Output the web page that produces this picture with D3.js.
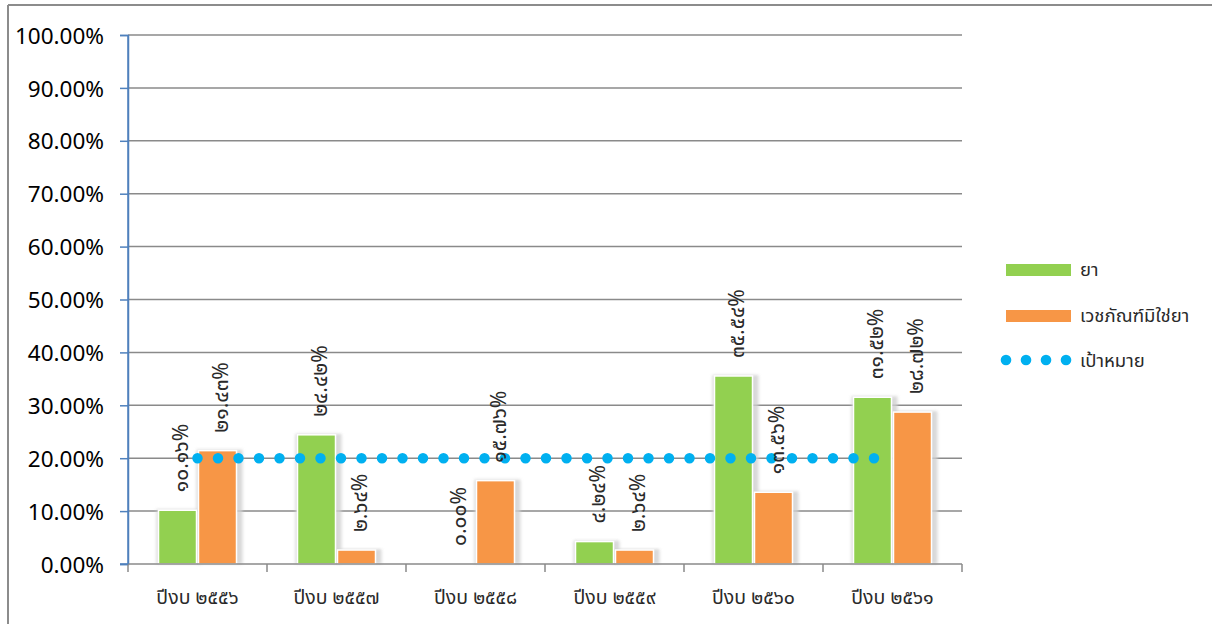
<!DOCTYPE html>
<html>
<head>
<meta charset="utf-8">
<script src="https://cdn.jsdelivr.net/npm/d3@7"></script>
<style>
  html, body { margin: 0; padding: 0; background: #fff; }
  svg { display: block; }
  text { font-family: "Noto Sans Thai", "Noto Sans", "DejaVu Sans", sans-serif; }
</style>
</head>
<body>
<svg id="chart" width="1212" height="624"></svg>
<script>
// Fiscal years (Thai Buddhist era)
const categories = ["ปีงบ ๒๕๕๖", "ปีงบ ๒๕๕๗", "ปีงบ ๒๕๕๘", "ปีงบ ๒๕๕๙", "ปีงบ ๒๕๖๐", "ปีงบ ๒๕๖๑"];
// Percentages per year
const drugValues = [10.16, 24.42, 0.00, 4.24, 35.54, 31.52];
const nonDrugValues = [21.43, 2.64, 15.76, 2.64, 13.56, 28.72];
const targetValues = [20, 20, 20, 20, 20, 20];
const yTicks = [0, 10, 20, 30, 40, 50, 60, 70, 80, 90, 100];
const seriesNames = ["ยา", "เวชภัณฑ์มิใช่ยา", "เป้าหมาย"];

const thaiDigits = "๐๑๒๓๔๕๖๗๘๙";
const toThai = s => s.replace(/[0-9]/g, d => thaiDigits[+d]);

const svg = d3.select("#chart");
const W = 1212, H = 624;
const plot = { left: 128, right: 962, top: 35, bottom: 564 };

const GREEN = "#92d050", ORANGE = "#f79646", BLUE = "#00b0f0";

// frame
svg.append("line").attr("x1", 8).attr("x2", W + 5).attr("y1", 5).attr("y2", 5)
  .attr("stroke", "#8c8c8c").attr("stroke-width", 2);
svg.append("line").attr("x1", 8).attr("x2", 8).attr("y1", 5).attr("y2", H + 5)
  .attr("stroke", "#8c8c8c").attr("stroke-width", 2);

const x = d3.scaleBand().domain(categories).range([plot.left, plot.right]).paddingInner(0).paddingOuter(0);
const y = d3.scaleLinear().domain([0, 100]).range([plot.bottom, plot.top]);

// gridlines
svg.append("g").selectAll("line").data(yTicks.filter(t => t > 0)).join("line")
  .attr("x1", plot.left).attr("x2", plot.right)
  .attr("y1", d => y(d)).attr("y2", d => y(d))
  .attr("stroke", "#8a8a8a").attr("stroke-width", 1.5);

// y axis
const yAxis = svg.append("g").attr("transform", `translate(${plot.left},0)`)
  .call(d3.axisLeft(y).tickValues(yTicks).tickSize(8).tickPadding(16)
    .tickFormat(d => d.toFixed(2) + "%"));
yAxis.select(".domain").attr("stroke", "#4f81bd").attr("stroke-width", 1.5);
yAxis.selectAll(".tick line").attr("stroke", "#4f81bd").attr("stroke-width", 1.5);
yAxis.selectAll(".tick text").attr("fill", "#000").style("font-size", "22.5px")
  .style("font-family", "'Noto Sans', sans-serif").attr("dy", "0.36em");

// bars
const groupW = 80, barW = groupW / 2;
const defs = svg.append("defs");
defs.append("filter").attr("id", "shadow").attr("x", "-30%").attr("y", "-10%").attr("width", "160%").attr("height", "120%")
  .append("feGaussianBlur").attr("stdDeviation", 1.5);

const bars = [];
categories.forEach((c, i) => {
  const cx = x(c) + x.bandwidth() / 2;
  bars.push({ c, x0: cx - groupW / 2, v: drugValues[i], color: GREEN });
  bars.push({ c, x0: cx, v: nonDrugValues[i], color: ORANGE });
});

const barG = svg.append("g");
bars.filter(b => b.v > 0).forEach(b => {
  barG.append("rect").attr("x", b.x0 - 1).attr("y", y(b.v) - 1)
    .attr("width", barW + 6).attr("height", y(0) - y(b.v) + 1)
    .attr("fill", "#cfcfcf").attr("filter", "url(#shadow)").attr("opacity", 0.8);
});
bars.filter(b => b.v > 0).forEach(b => {
  barG.append("rect").attr("x", b.x0 + 1).attr("y", y(b.v))
    .attr("width", barW - 2).attr("height", y(0) - y(b.v))
    .attr("fill", b.color).attr("stroke", "#fff").attr("stroke-width", 1.5);
});

// x axis
const xAxis = svg.append("g").attr("transform", `translate(0,${plot.bottom})`);
xAxis.append("line").attr("x1", plot.left).attr("x2", plot.right).attr("y1", 0).attr("y2", 0)
  .attr("stroke", "#8a8a8a").attr("stroke-width", 1.5);
const bounds = categories.map(c => x(c)).concat([plot.right]);
xAxis.selectAll("line.tk").data(bounds).join("line").attr("class", "tk")
  .attr("x1", d => d).attr("x2", d => d).attr("y1", 0).attr("y2", 8)
  .attr("stroke", "#8a8a8a").attr("stroke-width", 1.5);
xAxis.selectAll("text").data(categories).join("text")
  .attr("x", d => x(d) + x.bandwidth() / 2).attr("y", 40)
  .attr("text-anchor", "middle").attr("fill", "#2a2a2a").style("font-size", "19.5px")
  .text(d => d);
// y axis line drawn last so it sits above the x axis start
svg.append("line").attr("x1", plot.left).attr("x2", plot.left).attr("y1", plot.top).attr("y2", plot.bottom)
  .attr("stroke", "#4f81bd").attr("stroke-width", 1.5);
svg.append("line").attr("x1", plot.left - 8).attr("x2", plot.left).attr("y1", plot.bottom).attr("y2", plot.bottom)
  .attr("stroke", "#4f81bd").attr("stroke-width", 1.5);

// target line (round dots)
const line = d3.line().x((d, i) => x(categories[i]) + x.bandwidth() / 2).y(d => y(d));
svg.append("path").datum(targetValues).attr("d", line)
  .attr("fill", "none").attr("stroke", BLUE).attr("stroke-width", 10.5)
  .attr("stroke-linecap", "round").attr("stroke-dasharray", "0 20.5");

// value labels, rotated
const labelG = svg.append("g");
bars.forEach(b => {
  const lx = b.x0 + barW / 2 + 5;
  const ly = y(b.v) - 18;
  labelG.append("text")
    .attr("transform", `translate(${lx},${ly}) rotate(-90)`)
    .attr("text-anchor", "start").attr("dominant-baseline", "middle")
    .attr("fill", "#2a2a2a").style("font-size", "21px")
    .text(toThai(b.v.toFixed(2)) + "%");
});

// legend
const lg = svg.append("g").attr("transform", "translate(1006,0)");
lg.append("rect").attr("x", 0).attr("y", 264).attr("width", 65).attr("height", 12).attr("fill", GREEN);
lg.append("rect").attr("x", 0).attr("y", 310).attr("width", 65).attr("height", 12).attr("fill", ORANGE);
[0, 20, 40, 60].forEach(dx => lg.append("circle").attr("cx", dx).attr("cy", 360).attr("r", 5.3).attr("fill", BLUE));
const lgY = [270, 316, 361];
seriesNames.forEach((n, i) => {
  lg.append("text").attr("x", 74).attr("y", lgY[i]).attr("dy", "0.35em")
    .attr("fill", "#2a2a2a").style("font-size", "18.5px").text(n);
});
</script>
</body>
</html>
